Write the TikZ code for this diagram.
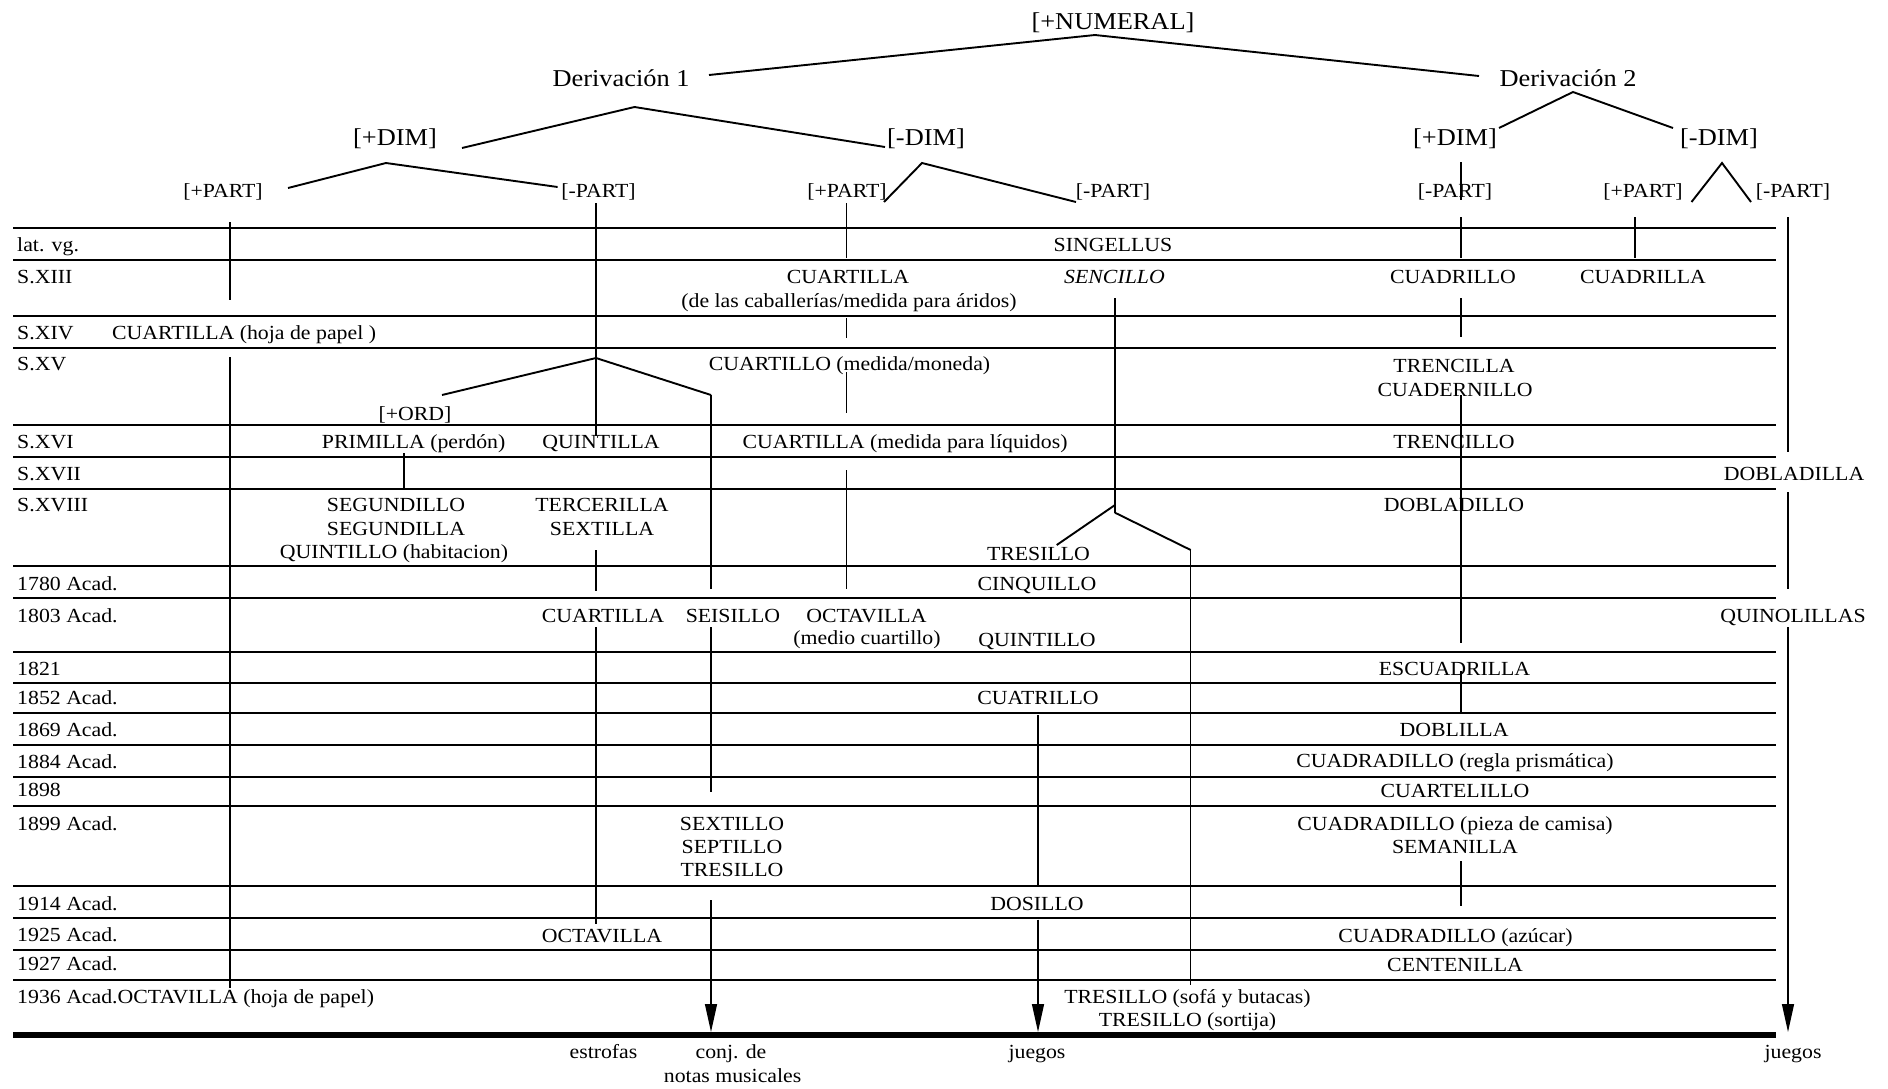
\documentclass[tikz,border=0pt]{standalone}
\usepackage{fontspec}
\usetikzlibrary{arrows.meta}
\newfontfamily\serfam{Liberation Serif}[FakeStretch=1.09]
\newcommand\bodyfnt{\serfam\fontsize{20}{24}\selectfont}
\newcommand\hdrfnt{\serfam\fontsize{24.2}{29}\selectfont}
\tikzset{
  txt/.style={anchor=base, inner sep=0pt, font=\bodyfnt},
  rowlab/.style={anchor=base west, inner sep=0pt, font=\bodyfnt},
  hdr/.style={anchor=base, inner sep=0pt, font=\hdrfnt},
  hline/.style={line width=2.7pt},
  botline/.style={line width=5.3pt},
  vline/.style={line width=1.3pt},
  tline/.style={line width=1.9pt},
  arr/.style={vline, -{Triangle[length=28pt,width=12pt]}}
}
\begin{document}
\begin{tikzpicture}[x=1pt,y=-1pt]
\useasboundingbox (0,0) rectangle (1888,1088);

% ---------- row rules ----------
\foreach \yy in {228,260,316,348,425,457,489,566,598,652,683,713,745,777,806,886,918,950,980}
  \draw[hline] (13,\yy) -- (1776,\yy);
\coordinate (bl) at (13,1035); \coordinate (br) at (1776,1035);
\draw[botline] (bl) -- (br);

% ---------- headers ----------
\node[hdr] (num) at (1113,29) {[+NUMERAL]};
\node[hdr] (der1) at (621,86) {Derivación 1};
\node[hdr] (der2) at (1568,86) {Derivación 2};
\node[hdr] (dimp1) at (395,145) {[+DIM]};
\node[hdr] (dimm1) at (926,145) {[-DIM]};
\node[hdr] (dimp2) at (1455,145) {[+DIM]};
\node[hdr] (dimm2) at (1719,145) {[-DIM]};

\node[txt] (pp1) at (223,197) {[+PART]};
\node[txt] (pm1) at (598.5,197) {[-PART]};
\node[txt] (pp2) at (847,197) {[+PART]};
\node[txt] (pm2) at (1113,197) {[-PART]};
\node[txt] (pm3) at (1455,197) {[-PART]};
\node[txt] (pp3) at (1643,197) {[+PART]};
\node[txt] (pm4) at (1793,197) {[-PART]};

% ---------- row labels ----------
\node[rowlab] (r0) at (17,251.5) {lat. vg.};
\node[rowlab] (r1) at (17,283.3) {S.XIII};
\node[rowlab] (r2) at (17,339.3) {S.XIV};
\node[rowlab] (r3) at (17,370) {S.XV};
\node[rowlab] (r4) at (17,448.3) {S.XVI};
\node[rowlab] (r5) at (17,480) {S.XVII};
\node[rowlab] (r6) at (17,511.7) {S.XVIII};
\node[rowlab] (r7) at (17,590) {1780 Acad.};
\node[rowlab] (r8) at (17,622) {1803 Acad.};
\node[rowlab] (r9) at (17,675) {1821};
\node[rowlab] (r10) at (17,704) {1852 Acad.};
\node[rowlab] (r11) at (17,736.5) {1869 Acad.};
\node[rowlab] (r12) at (17,768) {1884 Acad.};
\node[rowlab] (r13) at (17,796.7) {1898};
\node[rowlab] (r14) at (17,830) {1899 Acad.};
\node[rowlab] (r15) at (17,910) {1914 Acad.};
\node[rowlab] (r16) at (17,941.7) {1925 Acad.};
\node[rowlab] (r17) at (17,970.7) {1927 Acad.};
\node[rowlab] (r18) at (17,1003.3) {1936 Acad.OCTAVILLA (hoja de papel)};

% ---------- entries ----------
\node[txt] (singellus) at (1113,251.5) {SINGELLUS};
\node[txt] (cuartillaA) at (848,283.3) {CUARTILLA};
\node[txt] (cuartillaAb) at (849,307) {(de las caballerías/medida para áridos)};
\node[txt] (sencillo) at (1114.5,283.3) {\itshape SENCILLO};
\node[txt] (cuadrillo) at (1453,283.3) {CUADRILLO};
\node[txt] (cuadrilla) at (1643,283.3) {CUADRILLA};
\node[rowlab] (cuartillaP) at (112,339.3) {CUARTILLA (hoja de papel )};
\node[txt] (cuartillo) at (849.5,370) {CUARTILLO (medida/moneda)};
\node[txt] (trencilla) at (1454,372) {TRENCILLA};
\node[txt] (cuadernillo) at (1455,396) {CUADERNILLO};
\node[txt] (ord) at (415,420) {[+ORD]};
\node[txt] (primilla) at (413.6,448.3) {PRIMILLA (perdón)};
\node[txt] (quintilla) at (601,448.3) {QUINTILLA};
\node[txt] (cuartillaL) at (905,448.3) {CUARTILLA (medida para líquidos)};
\node[txt] (trencillo) at (1454,448.3) {TRENCILLO};
\node[txt] (dobladilla) at (1794,480) {DOBLADILLA};
\node[txt] (segundillo) at (396,511.7) {SEGUNDILLO};
\node[txt] (segundilla) at (396,535.5) {SEGUNDILLA};
\node[txt] (quintilloH) at (394,558.5) {QUINTILLO (habitacion)};
\node[txt] (tercerilla) at (602,511.7) {TERCERILLA};
\node[txt] (sextilla) at (602,535.5) {SEXTILLA};
\node[txt] (dobladillo) at (1454,511.7) {DOBLADILLO};
\node[txt] (tresilloA) at (1038.5,560) {TRESILLO};
\node[txt] (cinquillo) at (1037,590.3) {CINQUILLO};
\node[txt] (cuartillaE) at (603,622) {CUARTILLA};
\node[txt] (seisillo) at (733,622) {SEISILLO};
\node[txt] (octavillaA) at (866.4,622) {OCTAVILLA};
\node[txt] (octavillaAb) at (867,644.5) {(medio cuartillo)};
\node[txt] (quinolillas) at (1793,622) {QUINOLILLAS};
\node[txt] (quintilloB) at (1037,646) {QUINTILLO};
\node[txt] (escuadrilla) at (1454.5,675.2) {ESCUADRILLA};
\node[txt] (cuatrillo) at (1038,704) {CUATRILLO};
\node[txt] (doblilla) at (1454,736) {DOBLILLA};
\node[txt] (cuadradilloR) at (1455,767.5) {CUADRADILLO (regla prismática)};
\node[txt] (cuartelillo) at (1455,797) {CUARTELILLO};
\node[txt] (sextillo) at (732,830) {SEXTILLO};
\node[txt] (septillo) at (732,853.6) {SEPTILLO};
\node[txt] (tresilloB) at (732,876.8) {TRESILLO};
\node[txt] (cuadradilloC) at (1455,830) {CUADRADILLO (pieza de camisa)};
\node[txt] (semanilla) at (1455,853.3) {SEMANILLA};
\node[txt] (dosillo) at (1037,910) {DOSILLO};
\node[txt] (octavillaB) at (602,942) {OCTAVILLA};
\node[txt] (cuadradilloA) at (1455.6,942) {CUADRADILLO (azúcar)};
\node[txt] (centenilla) at (1455,971) {CENTENILLA};
\node[txt] (tresilloS) at (1187.5,1003.5) {TRESILLO (sofá y butacas)};
\node[txt] (tresilloT) at (1187.5,1026) {TRESILLO (sortija)};
\node[txt] (estrofas) at (603.5,1058.3) {estrofas};
\node[txt] (conj) at (731,1058.3) {conj. de};
\node[txt] (notas) at (732.6,1082) {notas musicales};
\node[txt] (juegosA) at (1037,1058.3) {juegos};
\node[txt] (juegosB) at (1793,1058.3) {juegos};

% ---------- tree connectors ----------
\coordinate (n0) at (1095,35); \coordinate (n0l) at (709,75); \coordinate (n0r) at (1479,76);
\draw[tline] (n0l) -- (n0) -- (n0r);
\coordinate (d1) at (634.5,107); \coordinate (d1l) at (462,148); \coordinate (d1r) at (885,147);
\draw[tline] (d1l) -- (d1) -- (d1r);
\coordinate (d2) at (1573,92); \coordinate (d2l) at (1499,128); \coordinate (d2r) at (1673,128);
\draw[tline] (d2l) -- (d2) -- (d2r);
\coordinate (p1) at (386,163); \coordinate (p1l) at (288,188); \coordinate (p1r) at (557.6,187);
\draw[tline] (p1l) -- (p1) -- (p1r);
\coordinate (p2) at (922,163); \coordinate (p2l) at (884,202); \coordinate (p2r) at (1076,202);
\draw[tline] (p2l) -- (p2) -- (p2r);
\coordinate (p3) at (1722,163); \coordinate (p3l) at (1691.5,202); \coordinate (p3r) at (1751,202);
\draw[tline] (p3l) -- (p3) -- (p3r);
\coordinate (o1) at (596,358); \coordinate (o1l) at (442,395); \coordinate (o1r) at (711,395); \coordinate (o1b) at (711,588.6);
\draw[tline] (o1l) -- (o1) -- (o1r);
\draw[vline] (o1r) -- (o1b);
\coordinate (s1) at (1115,298); \coordinate (s2) at (1115,505); \coordinate (s3) at (1115,512.7);
\coordinate (s2l) at (1056.7,545); \coordinate (s3r) at (1190.7,550); \coordinate (s3b) at (1190.7,985);
\draw[vline] (s1) -- (s3);
\draw[tline] (s2) -- (s2l);
\draw[tline] (s3) -- (s3r);
\draw[vline] (s3r) -- (s3b);

% ---------- vertical connectors ----------
\coordinate (a1) at (230,222); \coordinate (a2) at (230,300);
\coordinate (a3) at (230,357); \coordinate (a4) at (230,988);
\draw[vline] (a1) -- (a2); \draw[vline] (a3) -- (a4);
\coordinate (b1) at (596,203); \coordinate (b2) at (596,436);
\coordinate (b3) at (596,550); \coordinate (b4) at (596,591);
\coordinate (b5) at (596,627.3); \coordinate (b6) at (596,923.6);
\draw[vline] (b1) -- (b2); \draw[vline] (b3) -- (b4); \draw[vline] (b5) -- (b6);
\coordinate (c1) at (711,627.3); \coordinate (c2) at (711,791.6);
\coordinate (c3) at (711,900); \coordinate (c4) at (711,1032);
\draw[vline] (c1) -- (c2); \draw[arr] (c3) -- (c4);
\coordinate (e1) at (404,453); \coordinate (e2) at (404,490);
\draw[vline] (e1) -- (e2);
\coordinate (f1) at (846.5,203); \coordinate (f2) at (846.5,258);
\coordinate (f3) at (846.5,318); \coordinate (f4) at (846.5,338);
\coordinate (f5) at (846.5,372); \coordinate (f6) at (846.5,413);
\coordinate (f7) at (846.5,470); \coordinate (f8) at (846.5,588.6);
\draw[vline] (f1) -- (f2); \draw[vline] (f3) -- (f4); \draw[vline] (f5) -- (f6); \draw[vline] (f7) -- (f8);
\coordinate (g1) at (1038,715); \coordinate (g2) at (1038,885);
\coordinate (g3) at (1038,919.6); \coordinate (g4) at (1038,1032);
\draw[vline] (g1) -- (g2); \draw[arr] (g3) -- (g4);
\coordinate (h1) at (1461,162); \coordinate (h2) at (1461,200);
\coordinate (h3) at (1461,217); \coordinate (h4) at (1461,258);
\coordinate (h5) at (1461,298); \coordinate (h6) at (1461,337);
\coordinate (h7) at (1461,395); \coordinate (h8) at (1461,642.5);
\coordinate (h9) at (1461,671); \coordinate (h10) at (1461,711.5);
\coordinate (h11) at (1461,861.3); \coordinate (h12) at (1461,906);
\draw[vline] (h1) -- (h2); \draw[vline] (h3) -- (h4); \draw[vline] (h5) -- (h6);
\draw[vline] (h7) -- (h8); \draw[vline] (h9) -- (h10); \draw[vline] (h11) -- (h12);
\coordinate (k1) at (1635,217); \coordinate (k2) at (1635,258);
\draw[vline] (k1) -- (k2);
\coordinate (m1) at (1788,217); \coordinate (m2) at (1788,452);
\coordinate (m3) at (1788,492); \coordinate (m4) at (1788,588.6);
\coordinate (m5) at (1788,627.3); \coordinate (m6) at (1788,1032);
\draw[vline] (m1) -- (m2); \draw[vline] (m3) -- (m4); \draw[arr] (m5) -- (m6);
\end{tikzpicture}
\end{document}
